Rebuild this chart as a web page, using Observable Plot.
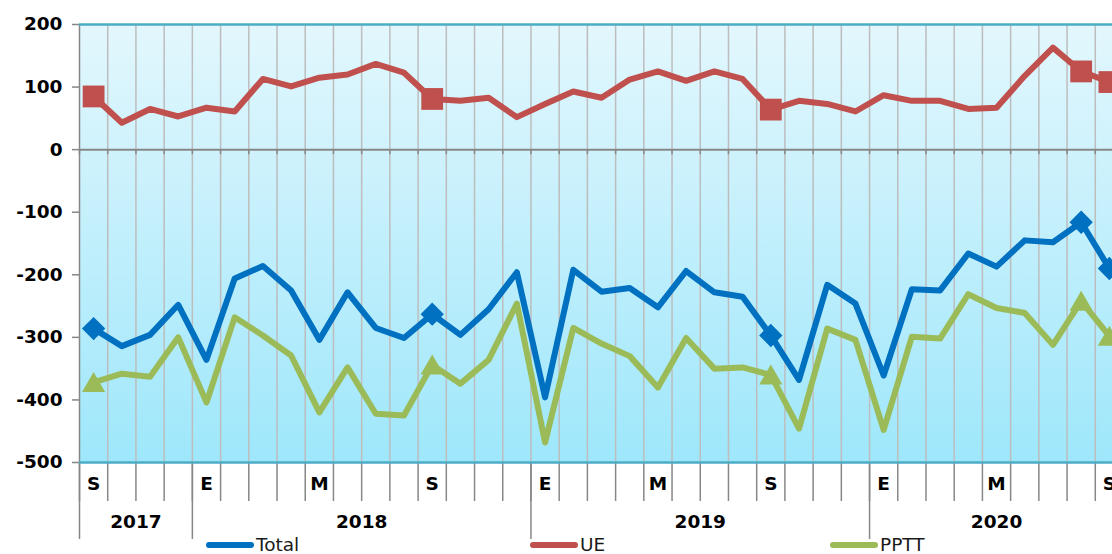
<!DOCTYPE html>
<html>
<head>
<meta charset="utf-8">
<script src="https://cdn.jsdelivr.net/npm/d3@7"></script>
<script src="https://cdn.jsdelivr.net/npm/@observablehq/plot@0.6"></script>
<style>
html, body { margin: 0; padding: 0; background: #ffffff; overflow: hidden; width: 1112px; height: 554px; }
#wrap { position: relative; width: 1112px; height: 554px; overflow: hidden; font-family: "DejaVu Sans", Verdana, sans-serif; }
#chart { width: 1125px; }
#chart svg { display: block; max-width: none !important; width: 1125px; height: 540px; }
.leg { position: absolute; top: 536px; display: flex; align-items: center; height: 18.5px; font-size: 18.5px; line-height: 18.5px; color: #1a1a1a; white-space: nowrap; }
.leg .sw { width: 48px; height: 6px; border-radius: 3px; margin-right: 2px; }
</style>
</head>
<body>
<div id="wrap"><div id="chart"></div><div id="legend"></div></div>
<script>
// ---- data ----
const periods = [
  "sep-17","oct-17","nov-17","dic-17",
  "ene-18","feb-18","mar-18","abr-18","may-18","jun-18","jul-18","ago-18","sep-18","oct-18","nov-18","dic-18",
  "ene-19","feb-19","mar-19","abr-19","may-19","jun-19","jul-19","ago-19","sep-19","oct-19","nov-19","dic-19",
  "ene-20","feb-20","mar-20","abr-20","may-20","jun-20","jul-20","ago-20","sep-20"
];
const labeledPeriods = ["sep-17","ene-18","may-18","sep-18","ene-19","may-19","sep-19","ene-20","may-20","sep-20"];
const monthTickLabels = ["S","E","M","S","E","M","S","E","M","S"];
const years = ["2017","2018","2019","2020"];
const seriesNames = ["Total","UE","PPTT"];
const seriesColors = ["#0070c0","#c0504d","#9bbb59"];
const seriesSymbols = ["diamond2","square","triangle"];

const total = [-286,-314,-296,-248,-336,-206,-186,-225,-304,-228,-285,-301,-263,-296,-255,-196,
               -396,-192,-227,-221,-252,-194,-228,-235,-297,-368,-216,-246,
               -361,-223,-225,-166,-187,-145,-148,-116,-190];
const ue = [85,43,65,53,67,61,113,101,115,120,137,123,81,78,83,52,
            73,93,83,112,125,110,125,113,64,78,73,61,
            87,78,78,65,67,118,163,125,108];
const pptt = [-372,-358,-363,-300,-404,-268,-297,-329,-420,-348,-422,-425,-344,-374,-336,-246,
              -468,-285,-310,-330,-380,-301,-350,-348,-360,-446,-286,-304,
              -448,-299,-302,-231,-253,-261,-312,-242,-298];
const markerPeriods = ["sep-17","sep-18","sep-19","ago-20","sep-20"];
const yTicks = [-500,-400,-300,-200,-100,0,100,200];

// ---- derived tables ----
const seriesValues = [total, ue, pptt];
const idx = new Map(periods.map((p, i) => [p, i]));
const rows = [];
seriesNames.forEach((s, k) => periods.forEach((p, i) => rows.push({s, i, p, v: seriesValues[k][i]})));
const markerRows = rows.filter(d => markerPeriods.includes(d.p));
const boundaries = d3.range(periods.length + 1).map(i => i - 0.5);
const yearStarts = boundaries.filter(b => b > -0.5 && b < periods.length - 0.5 && periods[b + 0.5].startsWith("ene"));
const yearCenters = years.map(y => ({y, x: d3.mean(periods.map((p, i) => [p, i]).filter(([p]) => p.endsWith(y.slice(2))), d => d[1])}));

const gray = "#878787";
const font = 18.5;

const chart = Plot.plot({
  width: 1125,
  height: 540,
  marginLeft: 79,
  marginRight: 2,
  marginTop: 24,
  marginBottom: 78,
  style: {fontFamily: "'DejaVu Sans', Verdana, sans-serif", fontSize: font + "px", color: "#000", background: "transparent", overflow: "visible"},
  x: {type: "linear", domain: [-0.5, periods.length - 0.5], axis: null},
  y: {domain: [-500, 200], axis: null, label: null},
  color: {domain: seriesNames, range: seriesColors},
  symbol: {domain: seriesNames, range: seriesSymbols},
  marks: [
    Plot.frame({fill: "url(#bgGrad)", stroke: "none"}),
    Plot.ruleX(boundaries.slice(1), {x: d => d, stroke: "#bdbdbd", strokeWidth: 1.5}),
    Plot.ruleY([0], {stroke: gray, strokeWidth: 2}),
    Plot.ruleX(boundaries, {x: d => d, y1: 0, y2: 0, insetBottom: -5, stroke: gray, strokeWidth: 1.5}),
    Plot.ruleX(boundaries, {x: d => d, y1: -500, y2: -500, insetBottom: -39, stroke: gray, strokeWidth: 1.5}),
    Plot.ruleX(yearStarts, {x: d => d, y1: -500, y2: -500, insetBottom: -77, stroke: gray, strokeWidth: 1.5}),
    Plot.ruleX([boundaries[0]], {x: d => d, y1: 200, y2: -500, insetBottom: -77, stroke: gray, strokeWidth: 1.5}),
    Plot.ruleY([200, -500], {stroke: "#4bacc6", strokeWidth: 2.5}),
    Plot.axisY(yTicks, {anchor: "left", tickSize: 7, tickPadding: 10, tickFormat: d => String(d), fontWeight: "bold", fontSize: font, stroke: gray, strokeWidth: 1.5, fill: "#000", label: null}),
    Plot.line(rows, {x: "i", y: "v", z: "s", stroke: "s", strokeWidth: 6, strokeLinejoin: "round", strokeLinecap: "round"}),
    Plot.dot(markerRows.filter(d => d.s === "Total"), {x: "i", y: "v", symbol: "s", fill: "s", stroke: "none", r: 10.5}),
    Plot.dot(markerRows.filter(d => d.s === "UE"), {x: "i", y: "v", symbol: "s", fill: "s", stroke: "none", r: 12.3}),
    Plot.dot(markerRows.filter(d => d.s === "PPTT"), {x: "i", y: "v", symbol: "s", fill: "s", stroke: "none", r: 8.6, dy: 3}),
    Plot.text(labeledPeriods, {x: p => idx.get(p), text: (p, i) => monthTickLabels[i], frameAnchor: "bottom", dy: 27, fontWeight: "bold", fontSize: font, fill: "#000"}),
    Plot.text(yearCenters, {x: "x", text: "y", frameAnchor: "bottom", dy: 65, fontWeight: "bold", fontSize: font, fill: "#000"})
  ]
});

const svg = d3.select(chart);
const grad = svg.insert("defs", ":first-child").append("linearGradient")
  .attr("id", "bgGrad").attr("x1", 0).attr("y1", 0).attr("x2", 0).attr("y2", 1);
grad.append("stop").attr("offset", "0%").attr("stop-color", "#e3f7fd");
grad.append("stop").attr("offset", "100%").attr("stop-color", "#9ee7fb");

document.getElementById("chart").appendChild(chart);

// ---- legend (HTML, below the chart area) ----
const legendLeft = [206, 530, 830];
const legend = document.getElementById("legend");
seriesNames.forEach((s, k) => {
  const item = document.createElement("div");
  item.className = "leg";
  item.style.left = legendLeft[k] + "px";
  item.innerHTML = `<span class="sw" style="background:${seriesColors[k]}"></span><span>${s}</span>`;
  legend.appendChild(item);
});
</script>
</body>
</html>
